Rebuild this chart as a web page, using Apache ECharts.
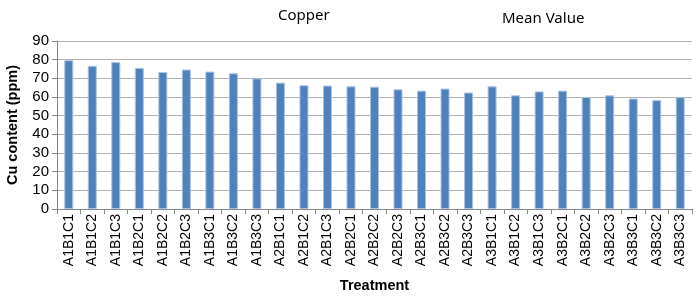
<!DOCTYPE html>
<html><head><meta charset="utf-8">
<script src="https://cdn.jsdelivr.net/npm/echarts@6/dist/echarts.min.js"></script>
<style>html,body{margin:0;padding:0;background:#fff}#c{width:700px;height:297px}</style>
</head><body><div id="c"></div>
<script>
const categories = ['A1B1C1','A1B1C2','A1B1C3','A1B2C1','A1B2C2','A1B2C3','A1B3C1','A1B3C2','A1B3C3',
  'A2B1C1','A2B1C2','A2B1C3','A2B2C1','A2B2C2','A2B2C3','A2B3C1','A2B3C2','A2B3C3',
  'A3B1C1','A3B1C2','A3B1C3','A3B2C1','A3B2C2','A3B2C3','A3B3C1','A3B3C2','A3B3C3'];
const meanValues = [79.7,76.7,78.7,75.6,73.4,74.7,73.6,72.7,70.0,
  67.7,66.3,66.1,65.7,65.5,64.1,63.4,64.5,62.4,
  65.7,60.9,63.0,63.4,60.0,60.9,59.2,58.3,60.0];
const yTicks = {min:0, max:90, interval:10};

const chart = echarts.init(document.getElementById('c'), null, {renderer:'canvas'});
chart.setOption({
  animation:false,
  title:[
    {text:'Copper', left:273, top:3, textStyle:{fontFamily:'Noto Sans', fontSize:15, fontWeight:'normal', color:'#000'}},
    {text:'Mean Value', left:497, top:6, textStyle:{fontFamily:'Noto Sans', fontSize:15, fontWeight:'normal', color:'#000'}}
  ],
  grid:{left:57, right:8, top:41, bottom:88, containLabel:false, outerBoundsMode:'none'},
  xAxis:{
    type:'category', data:categories,
    name:'Treatment', nameLocation:'middle', nameGap:69,
    nameTextStyle:{fontFamily:'Liberation Sans', fontSize:14.5, fontWeight:'bold', color:'#000'},
    axisLine:{lineStyle:{color:'#868686', width:1}},
    axisTick:{show:true, length:5, alignWithLabel:false, lineStyle:{color:'#868686'}},
    axisLabel:{rotate:90, interval:0, fontFamily:'Liberation Sans', fontSize:14, color:'#000', margin:5}
  },
  yAxis:{
    type:'value', min:yTicks.min, max:yTicks.max, interval:yTicks.interval,
    name:'Cu content (ppm)', nameLocation:'middle', nameGap:37,
    nameTextStyle:{fontFamily:'Liberation Sans', fontSize:14.5, fontWeight:'bold', color:'#000'},
    axisLine:{show:true, lineStyle:{color:'#868686', width:1}},
    axisTick:{show:true, length:5, lineStyle:{color:'#868686'}},
    axisLabel:{fontFamily:'Liberation Sans', fontSize:15, color:'#000', margin:8},
    splitLine:{show:true, lineStyle:{color:'#b3b3b3', width:1}}
  },
  series:[{
    type:'bar', data:meanValues, barWidth:9,
    itemStyle:{color:'#4F81BD', borderColor:'#a9c2e0', borderWidth:1}
  }]
});
</script></body></html>
